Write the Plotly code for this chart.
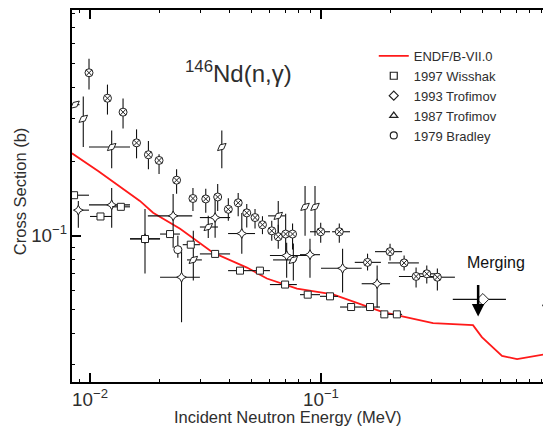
import numpy as np
import plotly.graph_objects as go

# ---------------- data ----------------
# ENDF/B-VII.0 evaluation (MeV, barn)
endf_E = [0.00835, 0.01084, 0.01644, 0.01875, 0.02455, 0.0341, 0.0478, 0.0583, 0.0787,
          0.0896, 0.1127, 0.1854, 0.3055, 0.455, 0.497, 0.6075, 0.706, 0.991]
endf_xs = [0.216, 0.183, 0.1384, 0.124, 0.1067, 0.0854, 0.0743, 0.0671, 0.0611,
           0.060, 0.0578, 0.0490, 0.0442, 0.0434, 0.0388, 0.0326, 0.0316, 0.0334]

# 1997 Wisshak (squares)
sq_E = [0.00853, 0.0111, 0.0136, 0.0173, 0.0222, 0.0273, 0.0348, 0.0446, 0.0544, 0.0699,
        0.0876, 0.1094, 0.135, 0.163, 0.188, 0.213]
sq_xs = [0.146, 0.1197, 0.131, 0.097, 0.1016, 0.092, 0.0844, 0.0722, 0.0722, 0.0634,
         0.0577, 0.0568, 0.0514, 0.0514, 0.048, 0.048]
sq_E_lo = [0.00835, 0.0100, 0.01245, 0.0149, 0.0201, 0.0252, 0.0299, 0.0396, 0.0478, 0.0601,
           0.0811, 0.099, 0.1209, 0.150, 0.180, 0.199]
sq_E_hi = [0.0099, 0.01245, 0.0149, 0.0201, 0.0245, 0.0299, 0.0404, 0.0478, 0.0601, 0.0786,
           0.099, 0.1185, 0.150, 0.180, 0.199, 0.2245]

# crossed-circle data set
cx_E = [0.0099, 0.0119, 0.0139, 0.0159, 0.0179, 0.0199, 0.0237, 0.0279, 0.0317, 0.0357,
        0.0397, 0.0438, 0.0477, 0.0518, 0.0558, 0.0612, 0.0653, 0.0703, 0.0753, 0.0997,
        0.120, 0.159, 0.199, 0.229, 0.258, 0.287, 0.319]
cx_xs = [0.458, 0.361, 0.317, 0.238, 0.213, 0.202, 0.168, 0.1416, 0.141, 0.1436,
         0.128, 0.136, 0.1238, 0.1185, 0.1108, 0.1047, 0.0991, 0.1016, 0.1016, 0.1038,
         0.1038, 0.078, 0.0862, 0.0776, 0.0684, 0.0701, 0.0679]
cx_xs_lo = [0.392, 0.310, 0.272, 0.206, 0.186, 0.178, 0.148, 0.126, 0.124, 0.126,
            0.115, 0.120, 0.108, 0.107, 0.1015, 0.0954, 0.0886, 0.0846, 0.088, 0.0937,
            0.0937, 0.0723, 0.0793, 0.0723, 0.0617, 0.064, 0.060]
cx_xs_hi = [0.522, 0.410, 0.360, 0.270, 0.242, 0.214, 0.186, 0.156, 0.155, 0.162,
            0.142, 0.149, 0.1345, 0.1285, 0.120, 0.1149, 0.1107, 0.1227, 0.112, 0.1128,
            0.112, 0.0846, 0.0929, 0.0831, 0.0743, 0.0757, 0.0736]
cx_E_lo = [0.0099, 0.0119, 0.0139, 0.0159, 0.0179, 0.0199, 0.0237, 0.0279, 0.0317, 0.0357,
           0.0397, 0.0438, 0.0477, 0.0518, 0.0558, 0.0612, 0.0653, 0.0703, 0.0753, 0.0896,
           0.1117, 0.140, 0.1713, 0.195, 0.2175, 0.260, 0.2875]
cx_E_hi = [0.0099, 0.0119, 0.0139, 0.0159, 0.0179, 0.0199, 0.0237, 0.0279, 0.0317, 0.0357,
           0.0397, 0.0438, 0.0477, 0.0518, 0.0558, 0.0612, 0.0653, 0.0703, 0.0753, 0.1094,
           0.1335, 0.1817, 0.2245, 0.2653, 0.305, 0.327, 0.380]

# 1987 Trofimov (slanted symbols)
tl_E = [0.00861, 0.00935, 0.01241, 0.0372, 0.0325, 0.028, 0.0653, 0.0853, 0.0942, 0.0759, 0.95]
tl_xs = [0.340, 0.298, 0.229, 0.229, 0.1085, 0.0798, 0.1204, 0.131, 0.131, 0.0798, 0.0537]
tl_E_lo = [0.00835, 0.00935, 0.0099, 0.0372, 0.0299, 0.0263, 0.059, 0.0853, 0.0942, 0.062, 0.93]
tl_E_hi = [0.0090, 0.00935, 0.0149, 0.0372, 0.0358, 0.0305, 0.0698, 0.0853, 0.0942, 0.0786, 0.97]
tl_xs_lo = [0.340, 0.229, 0.188, 0.188, 0.098, 0.0659, 0.0954, 0.100, 0.100, 0.0659, 0.0537]
tl_xs_hi = [0.340, 0.367, 0.267, 0.267, 0.1204, 0.1047, 0.1384, 0.159, 0.159, 0.093, 0.0537]

# star-like data set
st_E = [0.0089, 0.01241, 0.0173, 0.0229, 0.0249, 0.0348, 0.0454, 0.0710, 0.0896, 0.124, 0.175]
st_xs = [0.127, 0.1334, 0.0973, 0.1204, 0.0679, 0.1185, 0.1021, 0.0831, 0.0838, 0.0738, 0.0639]
st_E_lo = [0.00861, 0.0099, 0.0149, 0.0178, 0.0201, 0.0299, 0.0396, 0.0601, 0.0811, 0.100, 0.150]
st_E_hi = [0.0099, 0.0149, 0.0201, 0.0277, 0.0299, 0.0404, 0.0518, 0.087, 0.099, 0.150, 0.199]
st_xs_lo = [0.1078, 0.1078, 0.0703, 0.0894, 0.0446, 0.0981, 0.0846, 0.0676, 0.0676, 0.0589, 0.0512]
st_xs_hi = [0.1384, 0.156, 0.1285, 0.1476, 0.0894, 0.1424, 0.1238, 0.0937, 0.0973, 0.0886, 0.0757]

# 1979 Bradley (circle)
br_E = [0.0240]
br_xs = [0.0878]
br_xs_lo = [0.0815]
br_xs_hi = [0.100]

# 1993 Trofimov (diamond, merging point)
tr_E = [0.502]
tr_xs = [0.0552]
tr_E_lo = [0.372]
tr_E_hi = [0.632]

# ---------------- figure ----------------
FONT = "Liberation Sans, Arial, sans-serif"
TXT = "#2e2e2e"


def err(v, lo, hi):
    return dict(type="data", symmetric=False,
                array=[h - x for x, h in zip(v, hi)],
                arrayminus=[x - l for x, l in zip(v, lo)],
                color="#111", thickness=1.1, width=0)


def mk(symbol, size=8, angle=0):
    return dict(symbol=symbol, size=size, color="white", angle=angle,
                line=dict(color="#222", width=1))


fig = go.Figure()

fig.add_trace(go.Scatter(x=endf_E, y=endf_xs, mode="lines", name="ENDF/B-VII.0",
                         line=dict(color="#ff1a1a", width=1.8), legendrank=1))

fig.add_trace(go.Scatter(x=st_E, y=st_xs, mode="markers", showlegend=False,
                         marker=mk("star-diamond", 7),
                         error_x=err(st_E, st_E_lo, st_E_hi),
                         error_y=err(st_xs, st_xs_lo, st_xs_hi)))
fig.add_trace(go.Scatter(x=tl_E, y=tl_xs, mode="markers", showlegend=False,
                         marker=mk("diamond-tall", 8, 50),
                         error_x=err(tl_E, tl_E_lo, tl_E_hi),
                         error_y=err(tl_xs, tl_xs_lo, tl_xs_hi)))
fig.add_trace(go.Scatter(x=cx_E, y=cx_xs, mode="markers", showlegend=False,
                         marker=mk("circle-x", 8),
                         error_x=err(cx_E, cx_E_lo, cx_E_hi),
                         error_y=err(cx_xs, cx_xs_lo, cx_xs_hi)))
fig.add_trace(go.Scatter(x=sq_E, y=sq_xs, mode="markers", showlegend=False,
                         marker=mk("square", 7),
                         error_x=err(sq_E, sq_E_lo, sq_E_hi)))
fig.add_trace(go.Scatter(x=br_E, y=br_xs, mode="markers", showlegend=False,
                         marker=mk("circle", 8),
                         error_y=err(br_xs, br_xs_lo, br_xs_hi)))
fig.add_trace(go.Scatter(x=tr_E, y=tr_xs, mode="markers", showlegend=False,
                         marker=mk("diamond", 9),
                         error_x=err(tr_E, tr_E_lo, tr_E_hi)))

# legend entries
for i, (nm, sym) in enumerate([("1997 Wisshak", "square-open"),
                               ("1993 Trofimov", "diamond-open"),
                               ("1987 Trofimov", "triangle-up-open"),
                               ("1979 Bradley", "circle-open")]):
    fig.add_trace(go.Scatter(x=[None], y=[None], mode="markers", name=nm,
                             legendrank=2 + i,
                             marker=dict(symbol=sym, size=7, color="#222",
                                         line=dict(width=1.2))))

axis_common = dict(type="log", showline=True, linecolor="black", linewidth=2,
                   ticks="inside", ticklen=9, tickwidth=1.5, tickcolor="black",
                   dtick=1, exponentformat="power", showgrid=False, zeroline=False,
                   tickfont=dict(family=FONT, size=15, color=TXT),
                   minor=dict(ticks="inside", ticklen=3, tickwidth=1.2,
                              tickcolor="black", dtick="D1", showgrid=False))

fig.update_xaxes(range=[-2.078, -0.0043], mirror="ticks", **axis_common)
fig.update_yaxes(range=[-1.593, -0.0847], mirror=False, **axis_common)

merge_x = 0.479
merge_tip = 0.0471

fig.update_layout(
    width=543, height=419,
    margin=dict(l=64, r=0, t=0, b=45),
    plot_bgcolor="white", paper_bgcolor="white",
    font=dict(family=FONT, color=TXT),
    legend=dict(x=0.63, y=0.917, xanchor="left", yanchor="top",
                font=dict(family=FONT, size=13, color=TXT),
                bgcolor="rgba(0,0,0,0)", itemwidth=30, tracegroupgap=0),
    annotations=[
        dict(text="<sup>146</sup>Nd(n,γ)", xref="paper", yref="paper",
             x=0.3466, y=0.832, xanchor="center", yanchor="middle", showarrow=False,
             font=dict(family=FONT, size=24, color=TXT)),
        dict(text="Merging", xref="paper", yref="paper", x=0.885, y=0.3209,
             xanchor="center", yanchor="middle",
             showarrow=False, font=dict(family=FONT, size=16, color="#111")),
        dict(text="", xref="x", yref="y", x=np.log10(merge_x), y=np.log10(merge_tip),
             ax=0, ay=-33, showarrow=True, arrowhead=2, arrowsize=1,
             arrowwidth=2.5, arrowcolor="black"),
        dict(text="Incident Neutron Energy (MeV)", xref="paper", yref="paper",
             x=0.449, y=-0.0936, xanchor="center", yanchor="middle", showarrow=False,
             font=dict(family=FONT, size=16.5, color=TXT)),
        dict(text="Cross Section (b)", xref="paper", yref="paper",
             x=-0.1086, y=0.513, xanchor="center", yanchor="middle",
             showarrow=False, textangle=-90,
             font=dict(family=FONT, size=16.5, color=TXT)),
    ],
)

fig.write_html("out.html")
